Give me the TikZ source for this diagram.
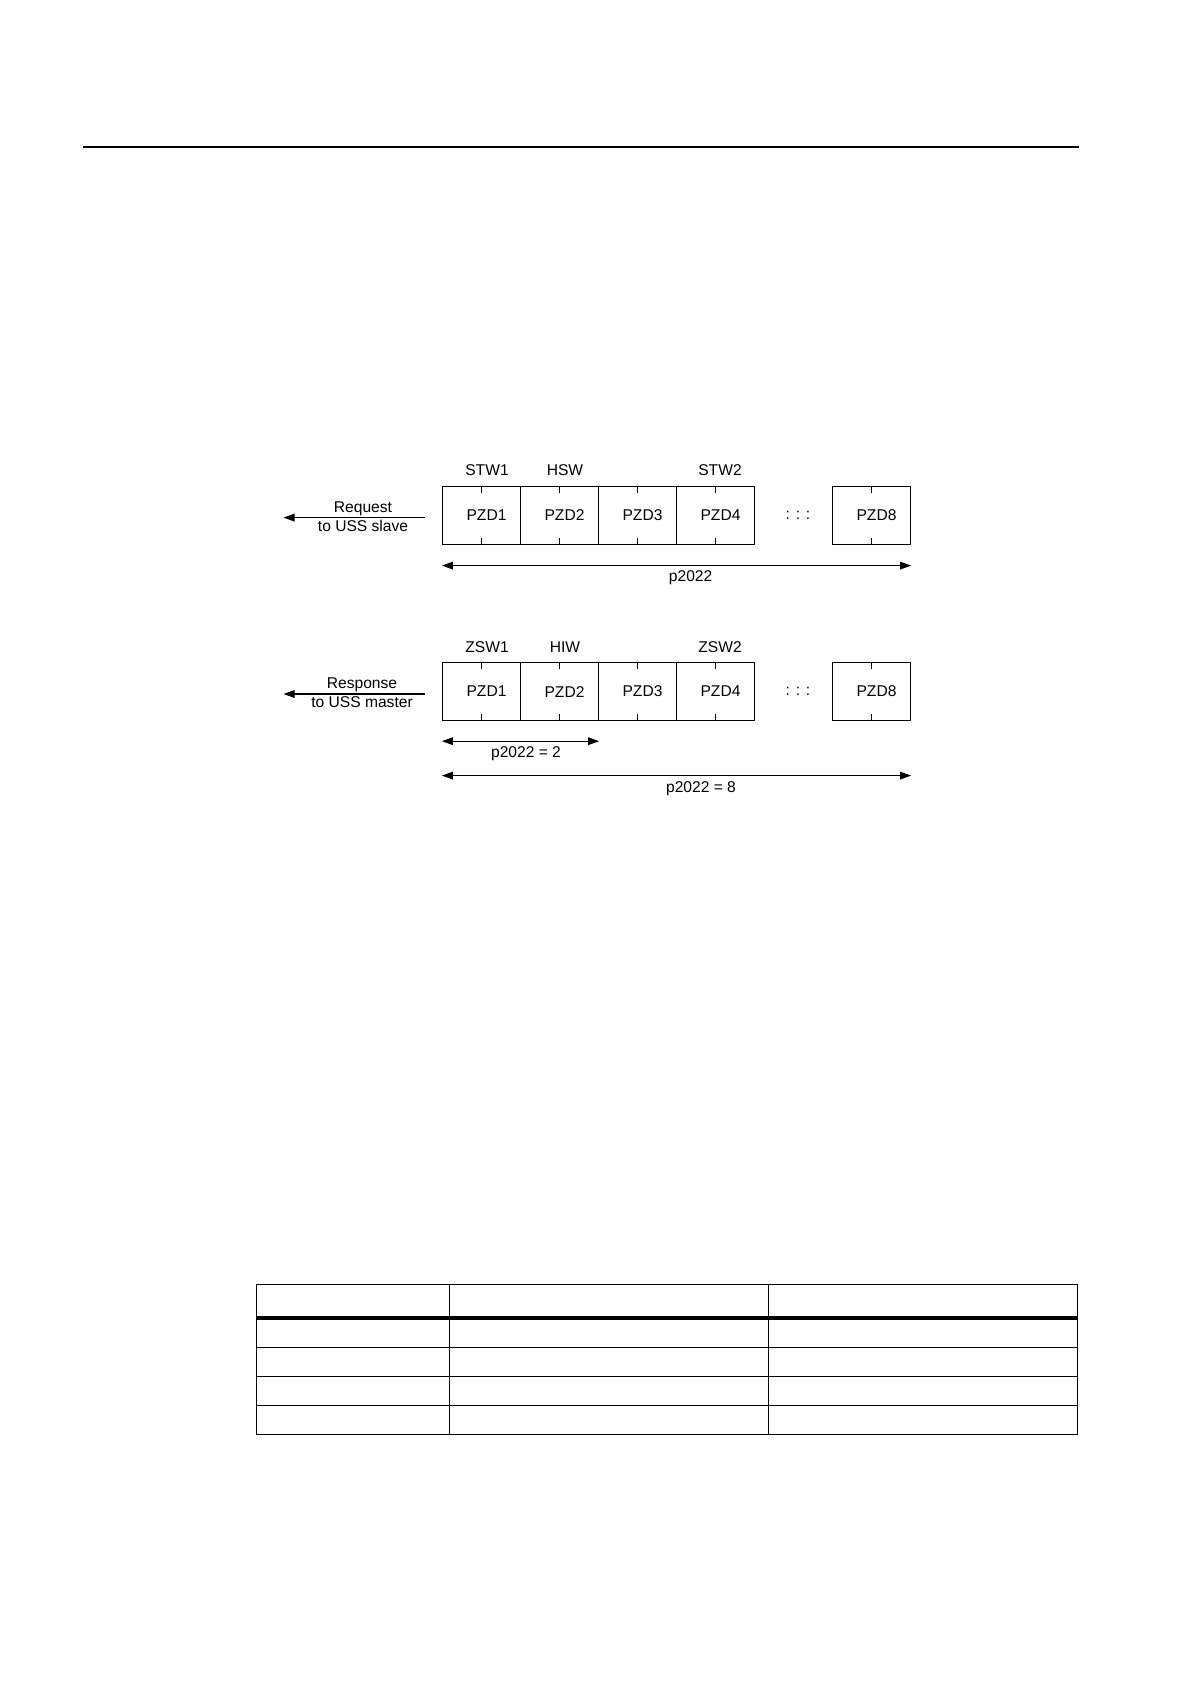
\documentclass[tikz,border=0pt]{standalone}
\usepackage{fontspec}
\setmainfont{Liberation Sans}
\usetikzlibrary{arrows.meta}

\begin{document}
\begin{tikzpicture}[
      x=0.5pt, y=-0.5pt, >={Triangle[length=5.5pt, width=3.8pt]},
      pzd/.style={rectangle, draw, line width=0.6pt, minimum width=39pt, minimum height=29pt, inner sep=0pt},
      dim/.style={<->, line width=0.6pt},
      every node/.style={font=\fontsize{7.8}{9.6}\selectfont}]

      \useasboundingbox (0,0) rectangle (1191,1684);
      \draw[line width=0.75pt] (83,147) -- (1079,147);

      \foreach \r/\y in {req/515.5, res/691.6}{
        \foreach \i in {1,...,4}{
          \node[pzd, label={[xshift=2.5pt]center:PZD\i}] (\r\i) at ({442.5+78*(\i-0.5)}, \y) {};
        }
        \node[pzd, label={[xshift=2.5pt]center:PZD8}] (\r8) at (871.5, \y) {};
        \foreach \i in {1,2,3,4,8}{
          \draw[line width=0.6pt] (\r\i.north) -- ++(0,7);
          \draw[line width=0.6pt] (\r\i.south) -- ++(0,-7);
        }
        \node (dots\r) at (798, \y) {: : :};
      }
      % word labels
      \node (stw1) at (487,470) {STW1};
      \node (hsw) at (565,470) {HSW};
      \node (stw2) at (720,470) {STW2};
      \node (zsw1) at (487,647) {ZSW1};
      \node (hiw) at (565,647) {HIW};
      \node (zsw2) at (720,647) {ZSW2};
      % direction
      \coordinate (reqA) at (425,517.6);
      \coordinate (reqB) at (283.5,517.6);
      \coordinate (resA) at (425,694);
      \coordinate (resB) at (283.5,694);
      \draw[->, line width=0.6pt] (reqA) -- (reqB);
      \draw[->, line width=0.6pt] (resA) -- (resB);
      \node[align=center] (reqtxt) at (363,516.5) {Request\\to USS slave};
      \node[align=center] (restxt) at (362,693) {Response\\to USS master};
      % lengths
      \draw[dim] ([yshift=-10.25pt]req1.south west) -- ([yshift=-10.25pt]req8.south east);
      \draw[dim] ([yshift=-10pt]res1.south west) -- ([yshift=-10pt]res2.south east);
      \draw[dim] ([yshift=-27.2pt]res1.south west) -- ([yshift=-27.2pt]res8.south east);
      \node (len1) at (690.6,578) {p2022};
      \node (len2) at (526,753.3) {p2022 = 2};
      \node (len8) at (701,788.3) {p2022 = 8};
      % table
      \draw[line width=0.5pt] (256,1284.5) rectangle (1077,1434);
      \draw[line width=1.7pt] (256,1318) -- (1077,1318);
      \foreach \y in {1347,1376,1405} \draw[line width=0.5pt] (256,\y) -- (1077,\y);
      \foreach \x in {449,768} \draw[line width=0.5pt] (\x,1284.5) -- (\x,1434);
    \end{tikzpicture}
\end{document}
